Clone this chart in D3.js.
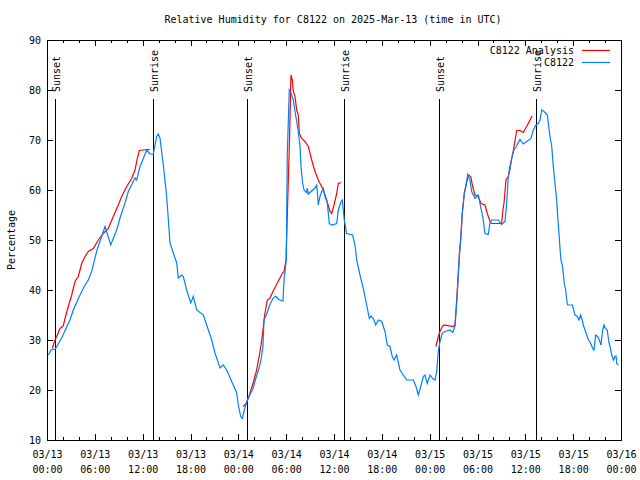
<!DOCTYPE html>
<html>
<head>
<meta charset="utf-8">
<script src="https://cdn.jsdelivr.net/npm/d3@7"></script>
<style>
  html, body { margin: 0; padding: 0; background: #fff; }
  svg { display: block; }
  text { font-family: "DejaVu Sans Mono", monospace; font-size: 10px; fill: #000; }
</style>
</head>
<body>
<svg id="chart" width="640" height="480"></svg>
<script>
// ---- data (hours since 2025-03-13 00:00 UTC, relative humidity %) ----
const title = "Relative Humidity for C8122 on 2025-Mar-13 (time in UTC)";
const yLabel = "Percentage";
const seriesNames = ["C8122 Analysis", "C8122"];

const obsHours = [0.16,0.5,1.04,1.84,2.88,3.3,4.14,4.77,5.18,5.6,6.27,7.28,7.99,8.74,9.16,9.78,10.2,11.04,11.25,11.67,12.51,12.92,13.33,13.76,13.96,14.17,14.59,15.01,15.43,15.84,16.27,16.47,16.9,17.1,17.52,18.03,18.35,18.78,19.61,20.03,20.66,21.07,21.7,22.11,22.54,23.17,23.8,23.96,24.3,24.5,24.8,25.13,25.43,25.84,26.13,26.47,26.81,27.09,27.22,27.51,27.93,28.35,28.69,29.06,29.6,29.73,30.02,30.14,30.39,30.6,30.9,31.11,31.32,31.52,31.74,31.86,32.07,32.24,32.58,32.65,32.78,33.62,33.83,34.03,34.24,34.46,34.66,34.87,35.16,35.41,35.71,36.34,36.54,36.88,37.04,37.29,37.59,38.34,38.63,38.85,39.26,39.68,40.1,40.43,40.64,40.93,41.23,41.56,41.98,42.4,42.69,43.02,43.31,43.53,43.86,44.28,44.69,45.12,45.95,46.29,46.57,46.88,47.2,47.41,47.7,48.04,48.38,48.67,48.88,49.08,49.3,49.58,49.92,50.55,50.89,51.18,51.39,51.51,51.72,51.89,52.09,52.34,52.52,52.77,53.06,53.27,53.68,54.1,54.31,54.65,54.94,55.35,55.57,55.78,56.61,57.03,57.45,57.66,57.86,58.07,58.29,58.57,58.91,59.33,59.74,60.17,60.71,61.0,61.34,61.63,61.84,62.05,62.34,62.76,63.09,63.31,63.51,63.72,63.93,64.06,64.22,64.35,64.47,64.64,64.76,64.89,65.06,65.19,65.31,65.89,66.02,66.23,66.52,66.73,66.94,67.11,67.27,67.48,67.7,67.9,68.2,68.45,68.61,68.82,69.08,69.28,69.49,69.7,69.87,70.03,70.28,70.46,70.62,70.84,71.05,71.25,71.38,71.46,71.67];
const obsValues = [27,28,28.2,30.4,34,36,39,41,42,43.7,48,52.7,49,52,54.4,57.4,59.7,62.4,62,64.7,68,67.2,67.2,70.7,71.2,70.4,65,58.7,49.4,47.4,45.4,42.4,43,42.7,40,37.4,38.7,36,35,33,30,27.4,24.4,25,24,21.7,19.4,17.3,14.7,14.3,16.3,18,19,20.3,22,23.7,25.7,28.7,34,35,37,38.3,38.8,38.1,37.8,42,46,67,80,79.4,78,75.7,73.7,71.7,68.7,64.7,61.3,60,59.5,60.4,59.2,60.4,61,57,58.7,59.7,60.3,58.7,57.4,53.3,53,53.3,56,57.7,58,54,51.3,51,49,46,43,40.3,37,34.3,34.8,34.3,33,34,33.7,31.7,29,28.7,26.7,26,27,24,23,22,22,20.7,19,20.7,22.7,23,21.3,23,22.3,22,23.7,27.7,29.7,31.3,31.7,32,31.5,32.8,37.3,40.7,46.7,50,55.3,59.3,60.5,63.1,62,59.7,58.3,59,57.3,54.7,51.3,51.1,53.5,54,54,53.1,53.7,57.3,62.7,64,66.3,68,68.8,70.1,69.2,69.7,70.3,72,73,73.3,74,76,75.7,75,70.7,68.7,64.7,61.3,58,54.7,51.3,48.3,46,45,43.3,41.3,40,38,37,37,36.3,35,34.7,34,35,34.1,33,32,31,30.1,29.3,28.3,28,31,30.7,30,29,32,33,32.3,32,29.7,28.7,27,26,26.7,26.8,25.3,25];

// Analysis series; null marks a gap between runs
const anaHours = [0.66,1.0,1.22,1.63,2.04,2.26,2.67,3.1,3.51,3.93,4.35,4.77,5.18,5.81,6.43,7.06,7.69,8.32,8.94,9.37,10.0,10.62,11.04,11.33,11.58,12.51,12.92,
  18.0,
  24.59,25.0,25.34,25.84,26.25,26.68,26.88,27.09,27.3,27.63,27.93,28.35,28.76,29.19,29.51,29.73,29.98,30.27,30.42,30.6,30.77,30.9,31.11,31.32,31.52,31.65,31.95,32.36,32.78,33.2,33.62,34.03,34.66,35.08,35.5,35.71,36.0,36.34,36.54,36.88,
  42.0,
  48.79,49.08,49.3,49.58,49.79,50.96,51.18,51.43,51.72,51.93,52.09,52.34,52.56,52.85,53.15,53.4,53.68,54.1,54.44,54.94,55.23,55.57,55.78,57.03,57.16,57.32,57.57,57.86,58.07,58.51,58.72,58.91,59.33,59.74,60.17,60.85];
const anaValues = [28.3,30,30.7,32.3,32.8,34.3,36.7,39,41.7,42.7,45.3,46.7,47.7,48.3,50,51.3,52.3,54.7,57,58.7,60.7,62.3,64,66.3,67.9,68.1,68.1,
  null,
  16.7,17.3,18.7,21.3,23.7,27.3,29.3,32,35,38,38.3,39.7,41,42.3,43.3,43.7,46,62,70,83,82,79.7,78.7,76,75,71.3,70.3,69.7,68.7,66,63.7,62,60,58,55.7,55.3,57,59.3,61.3,61.5,
  null,
  28.7,30.7,31.7,32.7,33,32.7,33,39,47,51,55.3,59.3,61,63,62.7,60.7,59,58.7,57.3,57,55.3,53.7,53.3,53.3,55.7,57.3,62,62.7,64.7,68,70,71.9,71.9,71.5,72.7,74.8];

// Sun events (hours since 03/13 00:00 UTC)
const sunNames = ["Sunset","Sunrise","Sunset","Sunrise","Sunset","Sunrise"];
const sunHours = [1.04,13.27,25.13,37.29,49.21,61.3];

const yTicks = [10,20,30,40,50,60,70,80,90];

// ---- chart ----
const W = 640, H = 480;
const m = {left: 47, right: 19, top: 40, bottom: 40};
const t0 = Date.UTC(2025, 2, 13, 0, 0);
const t1 = Date.UTC(2025, 2, 16, 0, 0);
const toDate = h => new Date(t0 + h * 3600e3);

const svg = d3.select("#chart");
const x = d3.scaleUtc().domain([new Date(t0), new Date(t1)]).range([m.left, W - m.right]);
const y = d3.scaleLinear().domain([10, 90]).range([H - m.bottom, m.top]);

// title
svg.append("text").attr("x", (m.left + W - m.right) / 2 - 1).attr("y", 23)
  .attr("text-anchor", "middle").text(title);

// y label
svg.append("text").attr("transform", `translate(15,${(m.top + H - m.bottom) / 2}) rotate(-90)`)
  .attr("text-anchor", "middle").text(yLabel);

const majorX = d3.utcHour.every(6).range(new Date(t0), new Date(t1 + 1));
const minorX = d3.utcHour.every(2).range(new Date(t0), new Date(t1 + 1)).filter(d => d.getUTCHours() % 6 !== 0);

function styleAxis(g) {
  g.select(".domain").remove();
  g.selectAll("line").attr("stroke", "#000").attr("stroke-width", 1).attr("shape-rendering", "crispEdges");
}

// bottom axis major
const gxb = svg.append("g").attr("transform", `translate(0,${H - m.bottom})`)
  .call(d3.axisBottom(x).tickValues(majorX).tickSizeInner(-6).tickSizeOuter(0).tickPadding(0).tickFormat(() => ""))
  .call(styleAxis);
gxb.selectAll(".tick text").each(function(d) {
  const t = d3.select(this).attr("y", null).attr("dy", null);
  t.append("tspan").attr("x", 0).attr("y", 18).text(d3.utcFormat("%m/%d")(d));
  t.append("tspan").attr("x", 0).attr("y", 33).text(d3.utcFormat("%H:%M")(d));
});
svg.append("g").attr("transform", `translate(0,${H - m.bottom})`)
  .call(d3.axisBottom(x).tickValues(minorX).tickSizeInner(-3).tickSizeOuter(0).tickFormat(() => ""))
  .call(styleAxis);
// top axis (mirror)
svg.append("g").attr("transform", `translate(0,${m.top})`)
  .call(d3.axisTop(x).tickValues(majorX).tickSizeInner(-6).tickSizeOuter(0).tickFormat(() => ""))
  .call(styleAxis);
svg.append("g").attr("transform", `translate(0,${m.top})`)
  .call(d3.axisTop(x).tickValues(minorX).tickSizeInner(-3).tickSizeOuter(0).tickFormat(() => ""))
  .call(styleAxis);

// left axis
const gyl = svg.append("g").attr("transform", `translate(${m.left},0)`)
  .call(d3.axisLeft(y).tickValues(yTicks).tickSizeInner(-6).tickSizeOuter(0).tickPadding(6).tickFormat(d3.format("d")))
  .call(styleAxis);
gyl.selectAll(".tick text").attr("x", -6);
// right axis mirror
svg.append("g").attr("transform", `translate(${W - m.right},0)`)
  .call(d3.axisRight(y).tickValues(yTicks).tickSizeInner(-6).tickSizeOuter(0).tickFormat(() => ""))
  .call(styleAxis);

// border
svg.append("rect").attr("x", m.left + 0.5).attr("y", m.top + 0.5)
  .attr("width", W - m.right - m.left).attr("height", H - m.bottom - m.top)
  .attr("fill", "none").attr("stroke", "#000").attr("stroke-width", 1);

// sun event lines & labels
const sunG = svg.append("g");
sunHours.forEach((h, i) => {
  const xs = Math.round(x(toDate(h))) + 0.5;
  sunG.append("line").attr("x1", xs).attr("x2", xs).attr("y1", 99).attr("y2", H - m.bottom)
    .attr("stroke", "#000").attr("stroke-width", 1);
  sunG.append("text").attr("transform", `translate(${xs + 4},92) rotate(-90)`)
    .attr("text-anchor", "start").text(sunNames[i]);
});

// lines
const anaData = anaHours.map((h, i) => ({t: toDate(h), v: anaValues[i]}));
const obsData = obsHours.map((h, i) => ({t: toDate(h), v: obsValues[i]}));
const line = d3.line().defined(d => d.v !== null).x(d => x(d.t)).y(d => y(d.v));

svg.append("path").datum(anaData).attr("d", line)
  .attr("fill", "none").attr("stroke", "#ff0000").attr("stroke-width", 1.2);
svg.append("path").datum(obsData).attr("d", line)
  .attr("fill", "none").attr("stroke", "#0080ff").attr("stroke-width", 1.2);

// legend
const legColors = ["#ff0000", "#0080ff"];
seriesNames.forEach((n, i) => {
  const ly = 50 + i * 12;
  svg.append("text").attr("x", 574).attr("y", ly + 4).attr("text-anchor", "end").text(n);
  svg.append("line").attr("x1", 582).attr("x2", 610).attr("y1", ly + 0.5).attr("y2", ly + 0.5)
    .attr("stroke", legColors[i]).attr("stroke-width", 1.2);
});
</script>
</body>
</html>
